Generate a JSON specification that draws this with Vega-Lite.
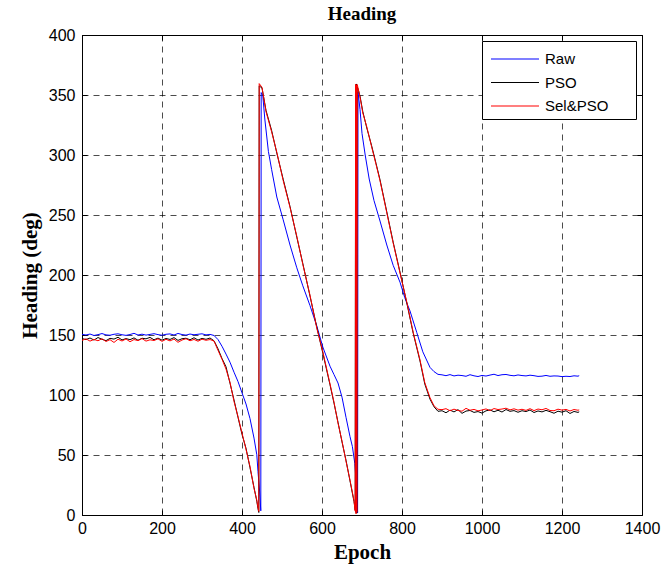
{
  "$schema": "https://vega.github.io/schema/vega-lite/v6.json",
  "width": 560,
  "height": 480,
  "autosize": "none",
  "padding": {"left": 82, "top": 35, "right": 26, "bottom": 54},
  "background": "white",
  "title": {"text": "Heading", "font": "Liberation Serif", "fontSize": 19, "fontWeight": "bold", "color": "black", "anchor": "middle", "offset": 3},
  "data": {"values": [
    {"e": 0, "Raw": 150.5, "PSO": 147.0, "Sel&PSO": 145.5},
    {"e": 10, "Raw": 150.0, "PSO": 146.2, "Sel&PSO": 146.8},
    {"e": 20, "Raw": 150.8, "PSO": 147.5, "Sel&PSO": 144.9},
    {"e": 30, "Raw": 149.6, "PSO": 145.8, "Sel&PSO": 146.3},
    {"e": 40, "Raw": 150.3, "PSO": 147.9, "Sel&PSO": 145.2},
    {"e": 50, "Raw": 151.2, "PSO": 146.4, "Sel&PSO": 146.9},
    {"e": 60, "Raw": 150.1, "PSO": 145.3, "Sel&PSO": 144.6},
    {"e": 70, "Raw": 149.8, "PSO": 147.2, "Sel&PSO": 146.1},
    {"e": 80, "Raw": 150.6, "PSO": 146.6, "Sel&PSO": 143.8},
    {"e": 90, "Raw": 151.0, "PSO": 148.1, "Sel&PSO": 146.5},
    {"e": 100, "Raw": 150.2, "PSO": 145.9, "Sel&PSO": 145.0},
    {"e": 110, "Raw": 149.7, "PSO": 147.0, "Sel&PSO": 146.7},
    {"e": 120, "Raw": 150.4, "PSO": 146.1, "Sel&PSO": 144.4},
    {"e": 130, "Raw": 151.4, "PSO": 147.6, "Sel&PSO": 146.2},
    {"e": 140, "Raw": 150.0, "PSO": 145.6, "Sel&PSO": 145.3},
    {"e": 150, "Raw": 150.7, "PSO": 147.3, "Sel&PSO": 147.0},
    {"e": 160, "Raw": 149.9, "PSO": 146.8, "Sel&PSO": 144.9},
    {"e": 170, "Raw": 150.5, "PSO": 148.0, "Sel&PSO": 146.0},
    {"e": 180, "Raw": 151.1, "PSO": 146.0, "Sel&PSO": 145.4},
    {"e": 190, "Raw": 150.3, "PSO": 147.4, "Sel&PSO": 146.8},
    {"e": 200, "Raw": 149.8, "PSO": 145.7, "Sel&PSO": 144.7},
    {"e": 210, "Raw": 150.6, "PSO": 147.1, "Sel&PSO": 146.4},
    {"e": 220, "Raw": 150.9, "PSO": 146.3, "Sel&PSO": 145.1},
    {"e": 230, "Raw": 150.0, "PSO": 147.8, "Sel&PSO": 146.6},
    {"e": 240, "Raw": 151.3, "PSO": 145.5, "Sel&PSO": 143.9},
    {"e": 250, "Raw": 150.4, "PSO": 146.9, "Sel&PSO": 145.8},
    {"e": 260, "Raw": 149.9, "PSO": 147.3, "Sel&PSO": 146.9},
    {"e": 270, "Raw": 150.8, "PSO": 146.0, "Sel&PSO": 145.2},
    {"e": 280, "Raw": 150.2, "PSO": 147.7, "Sel&PSO": 146.3},
    {"e": 290, "Raw": 150.6, "PSO": 145.8, "Sel&PSO": 144.8},
    {"e": 300, "Raw": 151.0, "PSO": 147.2, "Sel&PSO": 146.5},
    {"e": 310, "Raw": 150.1, "PSO": 146.4, "Sel&PSO": 145.6},
    {"e": 320, "Raw": 150.5, "PSO": 147.5, "Sel&PSO": 146.2},
    {"e": 330, "Raw": 149.6, "PSO": 145.2, "Sel&PSO": 145.0},
    {"e": 340, "Raw": 146.2, "PSO": 138.5, "Sel&PSO": 137.2},
    {"e": 350, "Raw": 140.6, "PSO": 130.4, "Sel&PSO": 129.8},
    {"e": 360, "Raw": 134.1, "PSO": 123.5, "Sel&PSO": 121.6},
    {"e": 370, "Raw": 127.3, "PSO": 109.8, "Sel&PSO": 110.5},
    {"e": 380, "Raw": 119.0, "PSO": 95.9, "Sel&PSO": 94.6},
    {"e": 390, "Raw": 111.2, "PSO": 81.4, "Sel&PSO": 81.9},
    {"e": 400, "Raw": 101.8, "PSO": 67.2, "Sel&PSO": 68.3},
    {"e": 410, "Raw": 92.5, "PSO": 55.6, "Sel&PSO": 54.7},
    {"e": 420, "Raw": 80.3, "PSO": 39.4, "Sel&PSO": 40.5},
    {"e": 430, "Raw": 64.1, "PSO": 23.0, "Sel&PSO": 22.1},
    {"e": 437, "Raw": 50.2, "PSO": 11.5, "Sel&PSO": 12.4},
    {"e": 440, "Raw": 36.0, "PSO": 5.2, "Sel&PSO": 6.0},
    {"e": 442, "PSO": 2.1, "Sel&PSO": 3.0},
    {"e": 443, "PSO": 357.6, "Sel&PSO": 359.5},
    {"e": 444, "Raw": 20.0},
    {"e": 447, "Raw": 3.5},
    {"e": 448, "Raw": 352.0},
    {"e": 450, "PSO": 355.8, "Sel&PSO": 356.4},
    {"e": 452, "Raw": 349.5},
    {"e": 457, "Raw": 330.0},
    {"e": 460, "PSO": 337.2, "Sel&PSO": 336.1},
    {"e": 466, "Raw": 303.0},
    {"e": 474, "Raw": 288.0, "PSO": 320.5, "Sel&PSO": 319.4},
    {"e": 487, "Raw": 265.0, "PSO": 301.6, "Sel&PSO": 302.3},
    {"e": 503, "Raw": 246.0, "PSO": 279.8, "Sel&PSO": 278.6},
    {"e": 520, "Raw": 225.0, "PSO": 257.1, "Sel&PSO": 256.4},
    {"e": 537, "Raw": 206.0, "PSO": 231.5, "Sel&PSO": 232.3},
    {"e": 552, "Raw": 191.0, "PSO": 209.6, "Sel&PSO": 208.9},
    {"e": 570, "Raw": 174.5, "PSO": 182.4, "Sel&PSO": 183.1},
    {"e": 587, "Raw": 157.5, "PSO": 156.5, "Sel&PSO": 155.6},
    {"e": 602, "Raw": 140.0, "PSO": 135.0, "Sel&PSO": 136.2},
    {"e": 620, "Raw": 124.0, "PSO": 108.5, "Sel&PSO": 109.3},
    {"e": 630, "Raw": 117.0, "PSO": 93.2, "Sel&PSO": 94.0},
    {"e": 640, "Raw": 110.0, "PSO": 77.3, "Sel&PSO": 76.5},
    {"e": 650, "Raw": 98.2, "PSO": 60.9, "Sel&PSO": 61.6},
    {"e": 660, "Raw": 81.4, "PSO": 45.6, "Sel&PSO": 44.8},
    {"e": 670, "Raw": 65.3, "PSO": 28.4, "Sel&PSO": 29.1},
    {"e": 676, "Raw": 57.0},
    {"e": 680, "PSO": 11.2, "Sel&PSO": 12.0},
    {"e": 682, "Raw": 43.0},
    {"e": 683, "PSO": 4.1, "Sel&PSO": 3.2},
    {"e": 684, "PSO": 358.0, "Sel&PSO": 359.0},
    {"e": 685, "PSO": 2.0, "Sel&PSO": 1.0},
    {"e": 686, "PSO": 359.2, "Sel&PSO": 358.2},
    {"e": 687, "Raw": 20.0, "PSO": 1.5, "Sel&PSO": 2.4},
    {"e": 688, "PSO": 356.8, "Sel&PSO": 358.8},
    {"e": 689, "Raw": 2.0},
    {"e": 690, "Raw": 352.5, "PSO": 355.2, "Sel&PSO": 356.0},
    {"e": 695, "Raw": 338.0, "PSO": 349.1, "Sel&PSO": 348.3},
    {"e": 700, "Raw": 318.0},
    {"e": 702, "PSO": 336.2, "Sel&PSO": 335.0},
    {"e": 708, "Raw": 300.0},
    {"e": 712, "PSO": 322.5, "Sel&PSO": 323.4},
    {"e": 718, "Raw": 280.0},
    {"e": 724, "PSO": 307.8, "Sel&PSO": 306.9},
    {"e": 730, "Raw": 262.0},
    {"e": 735, "PSO": 293.1, "Sel&PSO": 292.2},
    {"e": 745, "Raw": 245.0, "PSO": 279.4, "Sel&PSO": 278.6},
    {"e": 762, "Raw": 225.0, "PSO": 252.6, "Sel&PSO": 251.8},
    {"e": 778, "Raw": 208.0, "PSO": 227.3, "Sel&PSO": 226.5},
    {"e": 795, "Raw": 194.0, "PSO": 202.4, "Sel&PSO": 201.7},
    {"e": 807, "Raw": 181.0},
    {"e": 812, "PSO": 176.6, "Sel&PSO": 177.4},
    {"e": 820, "Raw": 170.0},
    {"e": 828, "PSO": 151.5, "Sel&PSO": 152.3},
    {"e": 837, "Raw": 152.0},
    {"e": 845, "PSO": 128.3, "Sel&PSO": 129.2},
    {"e": 852, "Raw": 136.0},
    {"e": 857, "PSO": 109.1, "Sel&PSO": 110.3},
    {"e": 870, "Raw": 123.0, "PSO": 96.5, "Sel&PSO": 97.8},
    {"e": 880, "Raw": 119.5, "PSO": 90.2, "Sel&PSO": 91.0},
    {"e": 890, "Raw": 117.2, "PSO": 86.4, "Sel&PSO": 88.1},
    {"e": 900, "Raw": 116.8, "PSO": 86.9, "Sel&PSO": 87.8},
    {"e": 910, "Raw": 116.1, "PSO": 85.2, "Sel&PSO": 88.6},
    {"e": 920, "Raw": 117.0, "PSO": 87.4, "Sel&PSO": 86.9},
    {"e": 930, "Raw": 115.9, "PSO": 85.9, "Sel&PSO": 88.2},
    {"e": 940, "Raw": 116.5, "PSO": 87.8, "Sel&PSO": 87.1},
    {"e": 950, "Raw": 116.2, "PSO": 84.7, "Sel&PSO": 86.5},
    {"e": 960, "Raw": 115.6, "PSO": 86.6, "Sel&PSO": 88.9},
    {"e": 970, "Raw": 116.9, "PSO": 87.1, "Sel&PSO": 87.3},
    {"e": 980, "Raw": 116.0, "PSO": 85.5, "Sel&PSO": 88.0},
    {"e": 990, "Raw": 115.4, "PSO": 86.2, "Sel&PSO": 86.8},
    {"e": 1000, "Raw": 116.3, "PSO": 84.9, "Sel&PSO": 87.5},
    {"e": 1010, "Raw": 115.8, "PSO": 86.8, "Sel&PSO": 88.4},
    {"e": 1020, "Raw": 116.6, "PSO": 87.6, "Sel&PSO": 87.0},
    {"e": 1030, "Raw": 117.3, "PSO": 86.0, "Sel&PSO": 88.7},
    {"e": 1040, "Raw": 116.2, "PSO": 87.3, "Sel&PSO": 87.9},
    {"e": 1050, "Raw": 116.9, "PSO": 85.8, "Sel&PSO": 88.3},
    {"e": 1060, "Raw": 117.1, "PSO": 87.9, "Sel&PSO": 89.0},
    {"e": 1070, "Raw": 116.4, "PSO": 86.4, "Sel&PSO": 87.6},
    {"e": 1080, "Raw": 116.0, "PSO": 87.0, "Sel&PSO": 88.5},
    {"e": 1090, "Raw": 116.7, "PSO": 85.6, "Sel&PSO": 87.4},
    {"e": 1100, "Raw": 116.2, "PSO": 86.9, "Sel&PSO": 88.1},
    {"e": 1110, "Raw": 115.9, "PSO": 86.2, "Sel&PSO": 87.2},
    {"e": 1120, "Raw": 116.5, "PSO": 87.5, "Sel&PSO": 88.6},
    {"e": 1130, "Raw": 116.1, "PSO": 85.4, "Sel&PSO": 87.0},
    {"e": 1140, "Raw": 115.5, "PSO": 86.7, "Sel&PSO": 88.3},
    {"e": 1150, "Raw": 115.7, "PSO": 85.9, "Sel&PSO": 87.7},
    {"e": 1160, "Raw": 116.3, "PSO": 87.2, "Sel&PSO": 88.8},
    {"e": 1170, "Raw": 115.6, "PSO": 86.1, "Sel&PSO": 87.1},
    {"e": 1180, "Raw": 115.9, "PSO": 84.8, "Sel&PSO": 86.9},
    {"e": 1190, "Raw": 115.8, "PSO": 86.5, "Sel&PSO": 88.2},
    {"e": 1200, "Raw": 115.3, "PSO": 85.7, "Sel&PSO": 87.4},
    {"e": 1210, "Raw": 115.6, "PSO": 86.9, "Sel&PSO": 88.0},
    {"e": 1220, "Raw": 115.4, "PSO": 84.6, "Sel&PSO": 86.7},
    {"e": 1230, "Raw": 116.0, "PSO": 86.3, "Sel&PSO": 87.9},
    {"e": 1240, "Raw": 115.7, "PSO": 85.5, "Sel&PSO": 87.3},
    {"e": 1243, "Raw": 116.1, "PSO": 86.0, "Sel&PSO": 87.6}
  ]},
  "transform": [
    {"fold": ["Raw", "PSO", "Sel&PSO"], "as": ["series", "value"]},
    {"filter": "isValid(datum.value)"}
  ],
  "layer": [
    {
      "mark": {"type": "line", "strokeWidth": 1, "invalid": "filter", "clip": true},
      "encoding": {
        "x": {"field": "e", "type": "quantitative", "title": "Epoch",
          "scale": {"domain": [0, 1400], "nice": false, "zero": false},
          "axis": {"orient": "bottom", "format": "d", "values": [0, 200, 400, 600, 800, 1000, 1200, 1400], "tickSize": -5, "labelPadding": 10, "labelFlush": false, "labelOverlap": false, "titlePadding": 5, "grid": true}},
        "y": {"field": "value", "type": "quantitative", "title": "Heading (deg)",
          "scale": {"domain": [0, 400], "nice": false},
          "axis": {"orient": "left", "format": "d", "values": [0, 50, 100, 150, 200, 250, 300, 350, 400], "tickSize": -5, "labelPadding": 12, "labelFlush": false, "labelOverlap": false, "titlePadding": 8, "grid": true}},
        "color": {"field": "series", "type": "nominal",
          "scale": {"domain": ["Raw", "PSO", "Sel&PSO"], "range": ["#0000ff", "#000000", "#ff0000"]},
          "legend": {"title": null, "orient": "top-right", "offset": 6, "symbolType": "M-2,0H2", "symbolSize": 576, "symbolStrokeWidth": 1.2, "symbolOffset": 15, "rowPadding": 2.5, "labelOffset": 17, "padding": 5, "strokeColor": "black", "fillColor": "white", "labelFont": "Liberation Sans", "labelFontSize": 15, "labelColor": "black", "labelExpr": "datum.label + '\u2800\u2800'"}}
      }
    },
    {
      "mark": {"type": "line", "opacity": 0, "invalid": "filter"},
      "encoding": {
        "x": {"field": "e", "type": "quantitative", "title": null,
          "axis": {"orient": "top", "values": [0, 200, 400, 600, 800, 1000, 1200, 1400], "tickSize": -5, "labels": false, "domain": false, "grid": false}},
        "y": {"field": "value", "type": "quantitative", "title": null,
          "axis": {"orient": "right", "values": [0, 50, 100, 150, 200, 250, 300, 350, 400], "tickSize": -5, "labels": false, "domain": false, "grid": false}}
      }
    }
  ],
  "resolve": {"axis": {"x": "independent", "y": "independent"}},
  "config": {
    "view": {"stroke": "black", "strokeWidth": 1},
    "axis": {
      "labelFont": "Liberation Sans", "labelFontSize": 16, "labelColor": "black",
      "titleFont": "Liberation Serif", "titleFontSize": 21, "titleFontWeight": "bold", "titleColor": "black",
      "domainColor": "black", "tickColor": "black", "tickWidth": 1,
      "gridColor": "#000000", "gridOpacity": 0.7, "gridDash": [6, 5], "gridWidth": 1
    }
  }
}
